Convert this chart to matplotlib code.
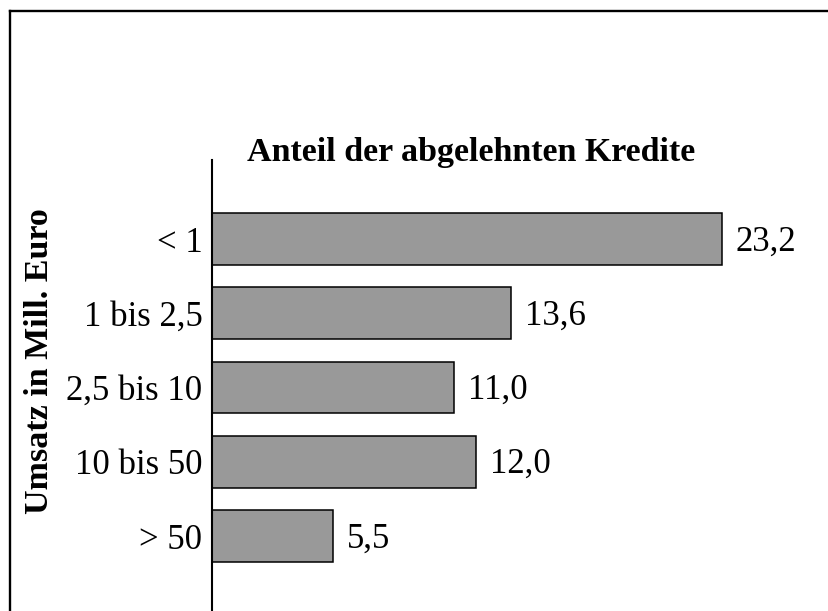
import matplotlib
matplotlib.use("Agg")
import matplotlib.pyplot as plt
from matplotlib.lines import Line2D

categories = ["< 1", "1 bis 2,5", "2,5 bis 10", "10 bis 50", "> 50"]
values = [23.2, 13.6, 11.0, 12.0, 5.5]
value_labels = ["23,2", "13,6", "11,0", "12,0", "5,5"]
title = "Anteil der abgelehnten Kredite"
ylabel = "Umsatz in Mill. Euro"

plt.rcParams['font.family'] = ['Liberation Serif', 'DejaVu Serif']

W, H = 829, 611
fig = plt.figure(figsize=(W / 100, H / 100), dpi=100)

# axes placement in pixels
left_px, right_px = 212, 829
top_px, bottom_px = 160, 611
ax = fig.add_axes([left_px / W, 1 - bottom_px / H,
                   (right_px - left_px) / W, (bottom_px - top_px) / H])

y = list(range(len(categories)))
ax.barh(y, values, height=0.70, color="#999999", edgecolor="black", linewidth=1.1)

ax.set_xlim(0, (right_px - left_px) / 21.98)
ax.set_ylim(len(categories) - 1 + 1.01, -1.064)

ax.set_yticks(y)
ax.set_yticklabels(categories, fontsize=25)
ax.tick_params(axis="y", length=0, pad=7)
ax.set_xticks([])

for s in ["top", "right", "bottom"]:
    ax.spines[s].set_visible(False)
ax.spines["left"].set_linewidth(1.5)
ax.spines["left"].set_color("black")

for yi, v, lab in zip(y, values, value_labels):
    ax.annotate(lab, xy=(v, yi), xytext=(10, -2), textcoords="offset points",
                va="center", ha="left", fontsize=25)

fig.text(471 / W, 1 - 152 / H, title, ha="center", va="center",
         fontsize=24.5, fontweight="bold")
fig.text(40 / W, 1 - 361 / H, ylabel, ha="center", va="center",
         rotation=90, fontsize=24.5, fontweight="bold")

# outer frame (left and top edges visible)
fig.add_artist(Line2D([10.5 / W, 10.5 / W], [0, 1 - 11 / H], color="black",
                      linewidth=1.7, transform=fig.transFigure))
fig.add_artist(Line2D([10 / W, 1], [1 - 11 / H, 1 - 11 / H], color="black",
                      linewidth=1.7, transform=fig.transFigure))

fig.savefig("out.png", dpi=100)
